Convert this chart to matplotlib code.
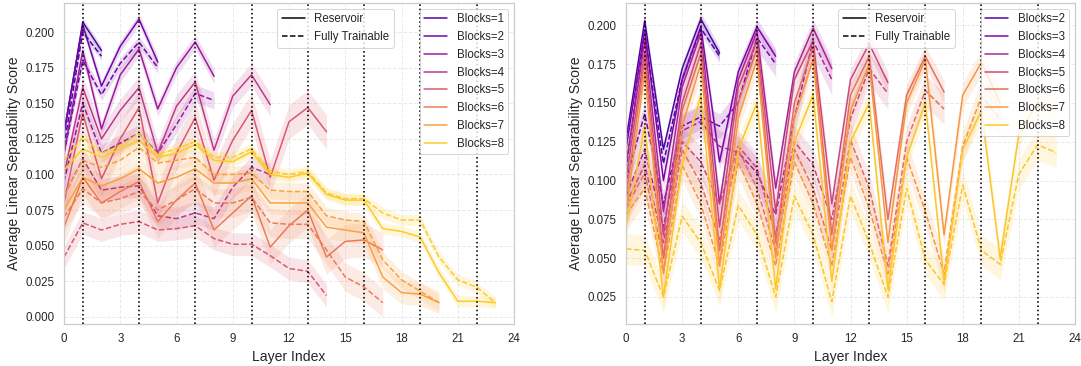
import matplotlib
matplotlib.use("Agg")
import matplotlib.pyplot as plt
from matplotlib.lines import Line2D
import numpy as np
import seaborn as sns

sns.set_theme(style="whitegrid")
plt.rcParams["font.family"] = ["Liberation Sans", "DejaVu Sans"]
plt.rcParams["xtick.labelsize"] = 11.5
plt.rcParams["ytick.labelsize"] = 11.5
plt.rcParams["axes.labelsize"] = 14
plt.rcParams["legend.fontsize"] = 11.5

# ---- left panel: mean score per layer (Reservoir solid, Fully Trainable dashed)
left_blocks = [1, 2, 3, 4, 5, 6, 7, 8]
left_res = {
    1: [0.128, 0.207, 0.187],
    2: [0.130, 0.205, 0.162, 0.190, 0.209, 0.179],
    3: [0.115, 0.187, 0.132, 0.170, 0.188, 0.146, 0.175, 0.193, 0.169],
    4: [0.100, 0.161, 0.125, 0.145, 0.161, 0.115, 0.148, 0.165, 0.117, 0.155, 0.170, 0.149],
    5: [0.080, 0.143, 0.097, 0.125, 0.147, 0.080, 0.115, 0.140, 0.096, 0.124, 0.145, 0.098,
        0.137, 0.147, 0.130],
    6: [0.063, 0.098, 0.080, 0.088, 0.095, 0.067, 0.082, 0.094, 0.061, 0.073, 0.085, 0.049,
        0.064, 0.075, 0.042, 0.053, 0.054, 0.047],
    7: [0.075, 0.098, 0.092, 0.097, 0.104, 0.094, 0.098, 0.104, 0.094, 0.094, 0.097, 0.080,
        0.080, 0.080, 0.063, 0.061, 0.059, 0.028, 0.017, 0.016, 0.010],
    8: [0.103, 0.118, 0.112, 0.118, 0.124, 0.112, 0.115, 0.121, 0.110, 0.109, 0.116, 0.100,
        0.098, 0.101, 0.086, 0.082, 0.082, 0.062, 0.060, 0.056, 0.031, 0.011, 0.011, 0.010],
}
left_ft = {
    1: [0.120, 0.200, 0.183],
    2: [0.115, 0.180, 0.156, 0.178, 0.193, 0.175],
    3: [0.095, 0.150, 0.115, 0.122, 0.129, 0.115, 0.135, 0.157, 0.152],
    4: [0.085, 0.111, 0.089, 0.091, 0.092, 0.071, 0.069, 0.073, 0.069, 0.091, 0.105, 0.100],
    5: [0.042, 0.066, 0.061, 0.065, 0.067, 0.061, 0.062, 0.064, 0.055, 0.051, 0.051, 0.043,
        0.034, 0.032, 0.015],
    6: [0.070, 0.090, 0.080, 0.083, 0.088, 0.075, 0.082, 0.090, 0.080, 0.080, 0.084, 0.066,
        0.065, 0.065, 0.047, 0.028, 0.021, 0.010],
    7: [0.085, 0.110, 0.105, 0.110, 0.119, 0.108, 0.110, 0.112, 0.100, 0.100, 0.101, 0.089,
        0.088, 0.088, 0.071, 0.068, 0.067, 0.040, 0.026, 0.018, 0.010],
    8: [0.110, 0.126, 0.115, 0.120, 0.129, 0.114, 0.118, 0.123, 0.112, 0.112, 0.118, 0.102,
        0.100, 0.102, 0.087, 0.083, 0.083, 0.073, 0.068, 0.068, 0.042, 0.026, 0.021, 0.010],
}
left_res_err = [0.003, 0.004, 0.005, 0.008, 0.012, 0.012, 0.008, 0.004]
left_ft_err = [0.003, 0.004, 0.006, 0.008, 0.008, 0.010, 0.006, 0.004]

# ---- right panel
right_blocks = [2, 3, 4, 5, 6, 7, 8]
right_res = {
    2: [0.126, 0.203, 0.120, 0.172, 0.204, 0.182],
    3: [0.120, 0.197, 0.100, 0.165, 0.199, 0.112, 0.170, 0.199, 0.180],
    4: [0.110, 0.190, 0.080, 0.160, 0.195, 0.085, 0.165, 0.196, 0.095, 0.170, 0.198, 0.172],
    5: [0.100, 0.183, 0.065, 0.150, 0.188, 0.070, 0.160, 0.190, 0.080, 0.165, 0.190, 0.085,
        0.165, 0.188, 0.163],
    6: [0.090, 0.178, 0.050, 0.145, 0.182, 0.055, 0.150, 0.185, 0.060, 0.150, 0.186, 0.065,
        0.155, 0.180, 0.075, 0.155, 0.180, 0.157],
    7: [0.080, 0.170, 0.040, 0.135, 0.175, 0.045, 0.140, 0.178, 0.050, 0.140, 0.178, 0.055,
        0.145, 0.175, 0.060, 0.150, 0.178, 0.065, 0.155, 0.176, 0.150],
    8: [0.070, 0.135, 0.025, 0.110, 0.155, 0.030, 0.120, 0.150, 0.030, 0.125, 0.155, 0.035,
        0.125, 0.150, 0.030, 0.115, 0.150, 0.035, 0.120, 0.145, 0.050, 0.130, 0.150, 0.145],
}
right_ft = {
    2: [0.107, 0.195, 0.111, 0.165, 0.198, 0.180],
    3: [0.100, 0.143, 0.085, 0.135, 0.141, 0.135, 0.150, 0.192, 0.175],
    4: [0.090, 0.120, 0.070, 0.132, 0.138, 0.122, 0.118, 0.105, 0.078, 0.140, 0.190, 0.165],
    5: [0.085, 0.110, 0.060, 0.125, 0.112, 0.085, 0.122, 0.108, 0.065, 0.125, 0.110, 0.075,
        0.140, 0.172, 0.156],
    6: [0.082, 0.105, 0.050, 0.120, 0.098, 0.062, 0.120, 0.095, 0.055, 0.120, 0.095, 0.055,
        0.126, 0.095, 0.045, 0.125, 0.158, 0.146],
    7: [0.078, 0.095, 0.040, 0.110, 0.085, 0.045, 0.112, 0.085, 0.045, 0.112, 0.085, 0.045,
        0.115, 0.082, 0.040, 0.115, 0.080, 0.040, 0.122, 0.154, 0.140],
    8: [0.056, 0.055, 0.025, 0.077, 0.060, 0.029, 0.084, 0.065, 0.025, 0.090, 0.065, 0.022,
        0.090, 0.060, 0.025, 0.095, 0.049, 0.033, 0.097, 0.055, 0.046, 0.104, 0.123, 0.118],
}
right_res_err = [0.004, 0.005, 0.006, 0.007, 0.007, 0.008, 0.008]
right_ft_err = [0.004, 0.008, 0.010, 0.010, 0.010, 0.010, 0.010]

xticks = [0, 3, 6, 9, 12, 15, 18, 21, 24]
block_starts = [1, 4, 7, 10, 13, 16, 19, 22]

fig = plt.figure(figsize=(1081 / 72, 366 / 72), dpi=72)
ax_l = fig.add_axes([64 / 1081, 42 / 366, 450 / 1081, 321 / 366])
ax_r = fig.add_axes([626 / 1081, 42 / 366, 449 / 1081, 321 / 366])


def draw(ax, blocks, res, ft, res_err, ft_err):
    colors = sns.color_palette("plasma", len(blocks))
    for i, b in enumerate(blocks):
        c = colors[i]
        for vals, err, ls in ((res[b], res_err[i], "-"), (ft[b], ft_err[i], "--")):
            y = np.array(vals)
            x = np.arange(len(y))
            ax.fill_between(x, y - err, y + err, color=c, alpha=0.15, lw=0)
            ax.plot(x, y, color=c, ls=ls, lw=1.5)
    for k in block_starts:
        ax.axvline(k, color="black", ls=":", lw=1.6, zorder=3)
    ax.set_xlim(0, 24)
    ax.set_xticks(xticks)
    ax.grid(True, ls="--", alpha=0.4)
    ax.set_xlabel("Layer Index")
    ax.set_ylabel("Average Linear Separability Score")

    style = [Line2D([], [], color="black", ls="-", lw=1.5, label="Reservoir"),
             Line2D([], [], color="black", ls="--", lw=1.5, label="Fully Trainable")]
    leg1 = ax.legend(handles=style, loc="upper right", bbox_to_anchor=(0.745, 1.0))
    ax.add_artist(leg1)
    handles = [Line2D([], [], color=colors[i], lw=1.5, label=f"Blocks={b}")
               for i, b in enumerate(blocks)]
    ax.legend(handles=handles, loc="upper right")


draw(ax_l, left_blocks, left_res, left_ft, left_res_err, left_ft_err)
ax_l.set_ylim(-0.005, 0.2204)
ax_l.set_yticks(np.arange(0, 0.2001, 0.025))

draw(ax_r, right_blocks, right_res, right_ft, right_res_err, right_ft_err)
ax_r.set_ylim(0.0076, 0.2143)
ax_r.set_yticks(np.arange(0.025, 0.2001, 0.025))

fig.savefig("out.png", dpi=72)
